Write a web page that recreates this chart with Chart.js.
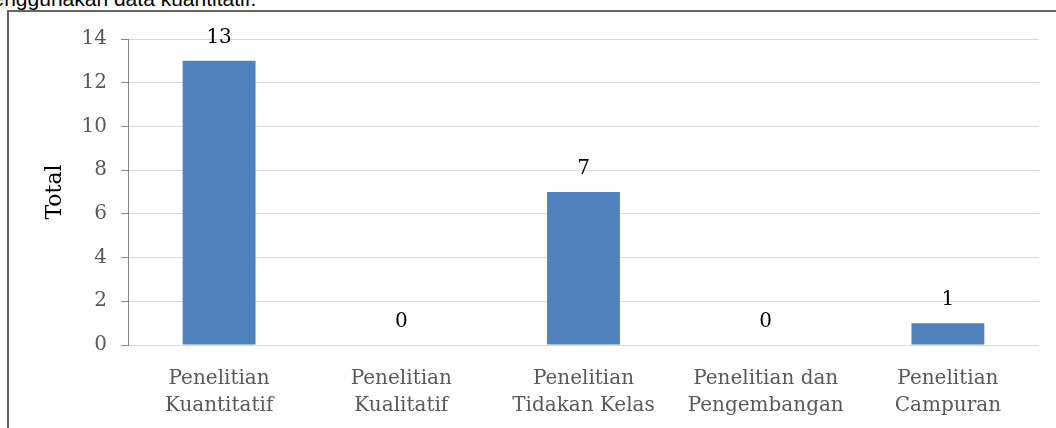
<!DOCTYPE html>
<html>
<head>
<meta charset="utf-8">
<script src="https://cdn.jsdelivr.net/npm/chart.js@4.4.1/dist/chart.umd.min.js"></script>
<style>
  html, body { margin: 0; padding: 0; background: #fff; }
  body { width: 1056px; height: 428px; position: relative; overflow: hidden; }
  #lead {
    position: absolute; left: -25px; top: -12px;
    font-family: 'Liberation Sans', Arial, sans-serif; font-size: 21px; line-height: 21px;
    color: #000; white-space: nowrap;
  }
  #frame {
    position: absolute; left: 7px; top: 10px; width: 1100px; height: 500px;
    border-left: 2px solid #666; border-top: 2px solid #666;
  }
  #chart { position: absolute; left: 0; top: 0; }
</style>
</head>
<body>
<div id="lead">menggunakan data kuantitatif.</div>
<div id="frame"></div>
<canvas id="chart" width="1056" height="428"></canvas>
<script>
// jenis penelitian dan jumlahnya
const kategori = [
    ['Penelitian', 'Kuantitatif'],
    ['Penelitian', 'Kualitatif'],
    ['Penelitian', 'Tidakan Kelas'],
    ['Penelitian dan', 'Pengembangan'],
    ['Penelitian', 'Campuran']
];
const jumlah = [13, 0, 7, 0, 1];
const yTicks = [0, 2, 4, 6, 8, 10, 12, 14];

const serif = "'DejaVu Serif', 'Liberation Serif', serif";

// angka di atas setiap batang
const valueLabels = {
    id: 'valueLabels',
    afterDatasetsDraw(chart) {
        const ctx = chart.ctx;
        const meta = chart.getDatasetMeta(0);
        ctx.save();
        ctx.font = '20px ' + serif;
        ctx.fillStyle = '#000';
        ctx.textAlign = 'center';
        ctx.textBaseline = 'alphabetic';
        meta.data.forEach((bar, i) => {
            ctx.fillText(String(jumlah[i]), bar.x, bar.y - 18);
        });
        ctx.restore();
    }
};

function initChart() {
    const ctx = document.getElementById('chart').getContext('2d');
    new Chart(ctx, {
        type: 'bar',
        data: {
            labels: kategori,
            datasets: [{
                data: jumlah,
                backgroundColor: '#4f81bd',
                borderWidth: 0,
                categoryPercentage: 0.8,
                barPercentage: 0.5
            }]
        },
        options: {
            responsive: false,
            animation: false,
            devicePixelRatio: 1,
            layout: { padding: { left: 0, top: 39, right: 17, bottom: 0 } },
            plugins: {
                legend: { display: false },
                tooltip: { enabled: false }
            },
            scales: {
                x: {
                    grid: { display: false },
                    border: { display: false },
                    ticks: {
                        color: '#595959',
                        padding: 12,
                        maxRotation: 0,
                        autoSkip: false,
                        font: { family: serif, size: 20, lineHeight: 1.35 }
                    },
                    afterFit(scale) { scale.height = 83; }
                },
                y: {
                    min: yTicks[0],
                    max: yTicks[yTicks.length - 1],
                    afterBuildTicks(scale) {
                        scale.ticks = yTicks.map(v => ({ value: v }));
                    },
                    grid: {
                        color: '#d9d9d9',
                        tickColor: '#868686',
                        tickLength: 7,
                        lineWidth: 1
                    },
                    border: { color: '#868686', width: 1 },
                    ticks: {
                        color: '#595959',
                        padding: 14,
                        font: { family: serif, size: 20 }
                    },
                    title: {
                        display: true,
                        text: 'Total',
                        color: '#000',
                        padding: { top: 42, bottom: 0 },
                        font: { family: serif, size: 22 }
                    },
                    afterFit(scale) { scale.width = 128; }
                }
            }
        },
        plugins: [valueLabels]
    });
}

initChart();
</script>
</body>
</html>
